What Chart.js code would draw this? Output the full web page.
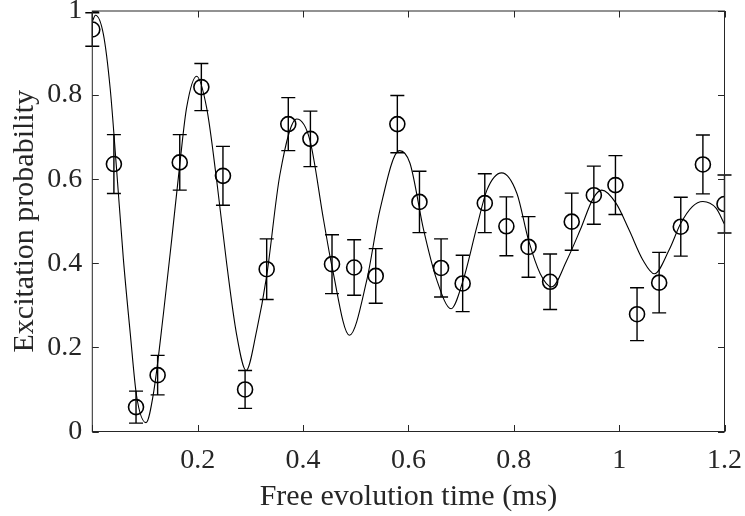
<!DOCTYPE html>
<html lang="en">
<head>
  <meta charset="UTF-8">
  <title>Excitation probability vs free evolution time</title>
  <script src="https://cdn.jsdelivr.net/npm/chart.js"></script>
  <style>
    body { margin: 0; background: #fff; }
  </style>
</head>
<body>
  <canvas id="ramseyChart" width="745" height="516"></canvas>

  <script>
    // measured points (ms, probability, error bar half-height)
    const timeMs = [0.000, 0.041, 0.083, 0.124, 0.166, 0.207, 0.248, 0.290, 0.331, 0.372,
                    0.414, 0.455, 0.497, 0.538, 0.579, 0.621, 0.662, 0.703, 0.745, 0.786,
                    0.828, 0.869, 0.910, 0.952, 0.993, 1.034, 1.076, 1.117, 1.159, 1.200];
    const excitation = [0.956, 0.636, 0.058, 0.134, 0.640, 0.819, 0.608, 0.100, 0.386, 0.731,
                        0.696, 0.398, 0.390, 0.370, 0.731, 0.546, 0.389, 0.352, 0.543, 0.488,
                        0.439, 0.356, 0.499, 0.562, 0.586, 0.279, 0.354, 0.487, 0.635, 0.541];
    const errBar = [0.040, 0.070, 0.038, 0.047, 0.066, 0.056, 0.070, 0.045, 0.072, 0.063,
                    0.066, 0.070, 0.066, 0.065, 0.068, 0.073, 0.069, 0.067, 0.070, 0.070,
                    0.072, 0.066, 0.068, 0.069, 0.070, 0.063, 0.072, 0.070, 0.070, 0.069];

    // fitted curve
    const fitT = [0.000, 0.006, 0.021, 0.034, 0.046, 0.059, 0.072, 0.084, 0.102, 0.116,
                  0.135, 0.151, 0.167, 0.179, 0.198, 0.217, 0.236, 0.255, 0.274, 0.292,
                  0.312, 0.331, 0.356, 0.388, 0.413, 0.439, 0.455, 0.488, 0.521, 0.546,
                  0.583, 0.603, 0.629, 0.654, 0.681, 0.704, 0.730, 0.749, 0.777, 0.806,
                  0.828, 0.850, 0.872, 0.901, 0.926, 0.951, 0.967, 0.994, 1.019, 1.045,
                  1.067, 1.095, 1.117, 1.139, 1.159, 1.184, 1.200];
    const fitP = [0.975, 0.990, 0.945, 0.815, 0.625, 0.410, 0.234, 0.085, 0.021, 0.090,
                  0.280, 0.460, 0.646, 0.770, 0.845, 0.770, 0.598, 0.400, 0.230, 0.145,
                  0.240, 0.370, 0.610, 0.743, 0.693, 0.503, 0.392, 0.229, 0.360, 0.527,
                  0.668, 0.638, 0.479, 0.360, 0.292, 0.360, 0.487, 0.574, 0.615, 0.566,
                  0.455, 0.376, 0.344, 0.408, 0.479, 0.555, 0.574, 0.543, 0.479, 0.408,
                  0.375, 0.432, 0.495, 0.535, 0.547, 0.531, 0.493];

    const xTicks = [0, 0.2, 0.4, 0.6, 0.8, 1, 1.2];
    const yTicks = [0, 0.2, 0.4, 0.6, 0.8, 1];

    const axisColor = '#262626';
    const serif = '"Liberation Serif", "DejaVu Serif", serif';

    // error bars with caps
    const errorBars = {
      id: 'errorBars',
      afterDatasetsDraw(chart) {
        const { ctx, scales: { x, y } } = chart;
        ctx.save();
        ctx.strokeStyle = '#000';
        ctx.lineWidth = 1.4;
        const cap = 7;
        timeMs.forEach((t, i) => {
          const px = x.getPixelForValue(t);
          const top = y.getPixelForValue(excitation[i] + errBar[i]);
          const bot = y.getPixelForValue(excitation[i] - errBar[i]);
          ctx.beginPath();
          ctx.moveTo(px, top); ctx.lineTo(px, bot);
          ctx.moveTo(px - cap, top); ctx.lineTo(px + cap, top);
          ctx.moveTo(px - cap, bot); ctx.lineTo(px + cap, bot);
          ctx.stroke();
        });
        ctx.restore();
      }
    };

    // matlab style box with inward ticks on all four sides
    const boxTicks = {
      id: 'boxTicks',
      afterDraw(chart) {
        const { ctx, chartArea: a, scales: { x, y } } = chart;
        const len = 6.5;
        ctx.save();
        ctx.strokeStyle = axisColor;
        ctx.lineWidth = 1;
        ctx.strokeRect(a.left, a.top, a.right - a.left, a.bottom - a.top);
        ctx.beginPath();
        xTicks.forEach(v => {
          const px = Math.round(x.getPixelForValue(v)) + 0.5;
          ctx.moveTo(px, a.bottom); ctx.lineTo(px, a.bottom - len);
          ctx.moveTo(px, a.top); ctx.lineTo(px, a.top + len);
        });
        yTicks.forEach(v => {
          const py = Math.round(y.getPixelForValue(v)) + 0.5;
          ctx.moveTo(a.left, py); ctx.lineTo(a.left + len, py);
          ctx.moveTo(a.right, py); ctx.lineTo(a.right - len, py);
        });
        ctx.stroke();
        ctx.restore();
      }
    };

    const ctx = document.getElementById('ramseyChart').getContext('2d');
    new Chart(ctx, {
      type: 'scatter',
      data: {
        datasets: [
          {
            label: 'Fit',
            data: fitT.map((t, i) => ({ x: t, y: fitP[i] })),
            showLine: true,
            borderColor: '#000',
            borderWidth: 1.1,
            pointRadius: 0,
            cubicInterpolationMode: 'monotone',
            fill: false,
          },
          {
            label: 'Data',
            data: timeMs.map((t, i) => ({ x: t, y: excitation[i] })),
            pointStyle: 'circle',
            pointRadius: 7.5,
            borderColor: '#000',
            borderWidth: 1.6,
            backgroundColor: 'rgba(0,0,0,0)',
          },
        ],
      },
      options: {
        responsive: false,
        animation: false,
        layout: { padding: { top: 11, right: 20.5, left: 0, bottom: 0 } },
        plugins: { legend: { display: false }, tooltip: { enabled: false } },
        scales: {
          x: {
            type: 'linear',
            min: 0,
            max: 1.2,
            afterFit: s => {
              s.height = 84.5;
              s.paddingLeft = 0;
              s.paddingRight = 0;
            },
            afterBuildTicks: s => { s.ticks = xTicks.map(v => ({ value: v })); },
            grid: { display: false, drawTicks: false },
            border: { display: false },
            ticks: {
              color: axisColor,
              font: { family: serif, size: 28 },
              padding: 12,
              maxRotation: 0,
              callback: v => (v === 0 ? '' : String(v)),
            },
            title: {
              display: true,
              text: 'Free evolution time (ms)',
              color: axisColor,
              font: { family: serif, size: 30 },
              padding: { top: 0, bottom: 1 },
            },
          },
          y: {
            min: 0,
            max: 1,
            afterFit: s => {
              s.width = 92.3;
              s.paddingTop = 0;
              s.paddingBottom = 0;
            },
            afterBuildTicks: s => { s.ticks = yTicks.map(v => ({ value: v })); },
            grid: { display: false, drawTicks: false },
            border: { display: false },
            ticks: {
              color: axisColor,
              font: { family: serif, size: 28 },
              padding: 10,
              callback: v => String(v),
            },
            title: {
              display: true,
              text: 'Excitation probability',
              color: axisColor,
              font: { family: serif, size: 30 },
              padding: { top: 7, bottom: 0 },
            },
          },
        },
      },
      plugins: [errorBars, boxTicks],
    });
  </script>
</body>
</html>
